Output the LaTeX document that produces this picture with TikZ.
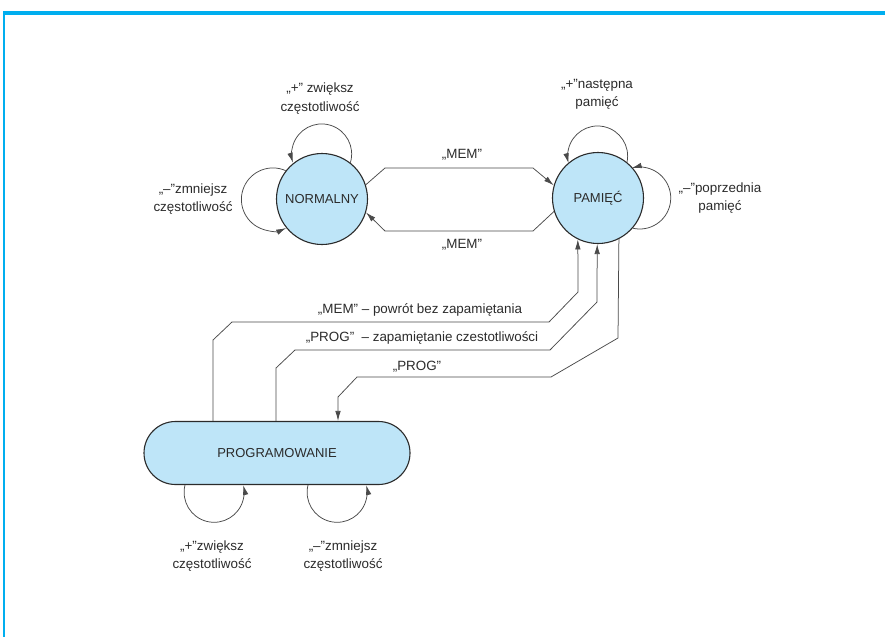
\documentclass[tikz,border=0pt]{standalone}
\usepackage{fontspec}
\setmainfont{Liberation Sans}
\usetikzlibrary{arrows.meta}
\definecolor{frameblue}{HTML}{00AEEF}
\definecolor{statefill}{HTML}{BEE5F8}
\definecolor{ln}{HTML}{2B2B2B}
\definecolor{cn}{HTML}{4A4A4A}
\begin{document}
\begin{tikzpicture}[x=1pt,y=1pt,
  state/.style={circle,draw=ln,line width=1.1pt,fill=statefill,minimum size=91pt,inner sep=0pt,text=ln,font=\fontsize{13}{15}\selectfont},
  progstate/.style={rectangle,rounded corners=31.5pt,draw=ln,line width=1.1pt,fill=statefill,minimum width=266pt,minimum height=63pt,inner sep=0pt,text=ln,font=\fontsize{13}{15}\selectfont},
  conn/.style={draw=cn,line width=0.75pt,-{Latex[length=10pt,width=5.5pt]}},
  lbl/.style={align=center,font=\fontsize{13.4}{18.5}\selectfont,text=ln,inner sep=0pt}
]
\useasboundingbox (0,0) rectangle (885,-637);
\fill[frameblue] (2.5,-11) rectangle (885,-15);
\fill[frameblue] (2.5,-11) rectangle (4.8,-637);

\node[state] (N) at (322,-199) {NORMALNY};
\node[state] (P) at (598,-198) {PAMIĘĆ};
\node[progstate] (G) at (277,-453) {PROGRAMOWANIE};

% MEM transitions
\draw[conn] (N.18) -- (385,-168) -- (533,-168) -- (P.164);
\draw[conn] (P.197) -- (533,-231) -- (385,-231) -- (N.-17);
\node[lbl] (m1) at (462,-155) {„MEM”};
\node[lbl] (m2) at (462,-245) {„MEM”};

% lower transitions
\draw[conn] (213,0 |- G.north) -- (213,-340) -- (232,-322) -- (549,-322) -- (578,-292) -- (P.-116.4);
\draw[conn] (276,0 |- G.north) -- (276,-368) -- (295,-350) -- (550,-350) -- (597,-302) -- (P.-91.3);
\draw[conn] (P.-63.6) -- (618,-338) -- (551,-377) -- (357,-377) -- (338,-397) -- (338,0 |- G.north);
\node[lbl] (t1) at (420,-310) {„MEM” – powrót bez zapamiętania};
\node[lbl] (t2) at (422,-338) {„PROG”~~– zapamiętanie czestotliwości};
\node[lbl] (t3) at (417,-367) {„PROG”};

% self loops
\draw[conn] (N.52) arc[start angle=-17,end angle=197,radius=30];
\draw[conn] (N.142) arc[start angle=66,end angle=295,radius=31.5];
\draw[conn] (P.51) arc[start angle=-12,end angle=194,radius=30];
\draw[conn] (P.-41) arc[start angle=-103,end angle=105,radius=31];
\draw[conn] (185,0 |- G.south) arc[start angle=166,end angle=374,radius=30];
\draw[conn] (308,0 |- G.south) arc[start angle=166,end angle=374,radius=30];

\node[lbl] (a1) at (320,-98.5) {„+” zwiększ\\częstotliwość};
\node[lbl] (a2) at (193,-199) {„–”zmniejsz\\częstotliwość};
\node[lbl] (a3) at (597,-94.5) {„+”następna\\pamięć};
\node[lbl] (a4) at (720,-198) {„–”poprzednia\\pamięć};
\node[lbl] (a5) at (212,-556) {„+”zwiększ\\częstotliwość};
\node[lbl] (a6) at (343,-556) {„–”zmniejsz\\częstotliwość};
\end{tikzpicture}
\end{document}
